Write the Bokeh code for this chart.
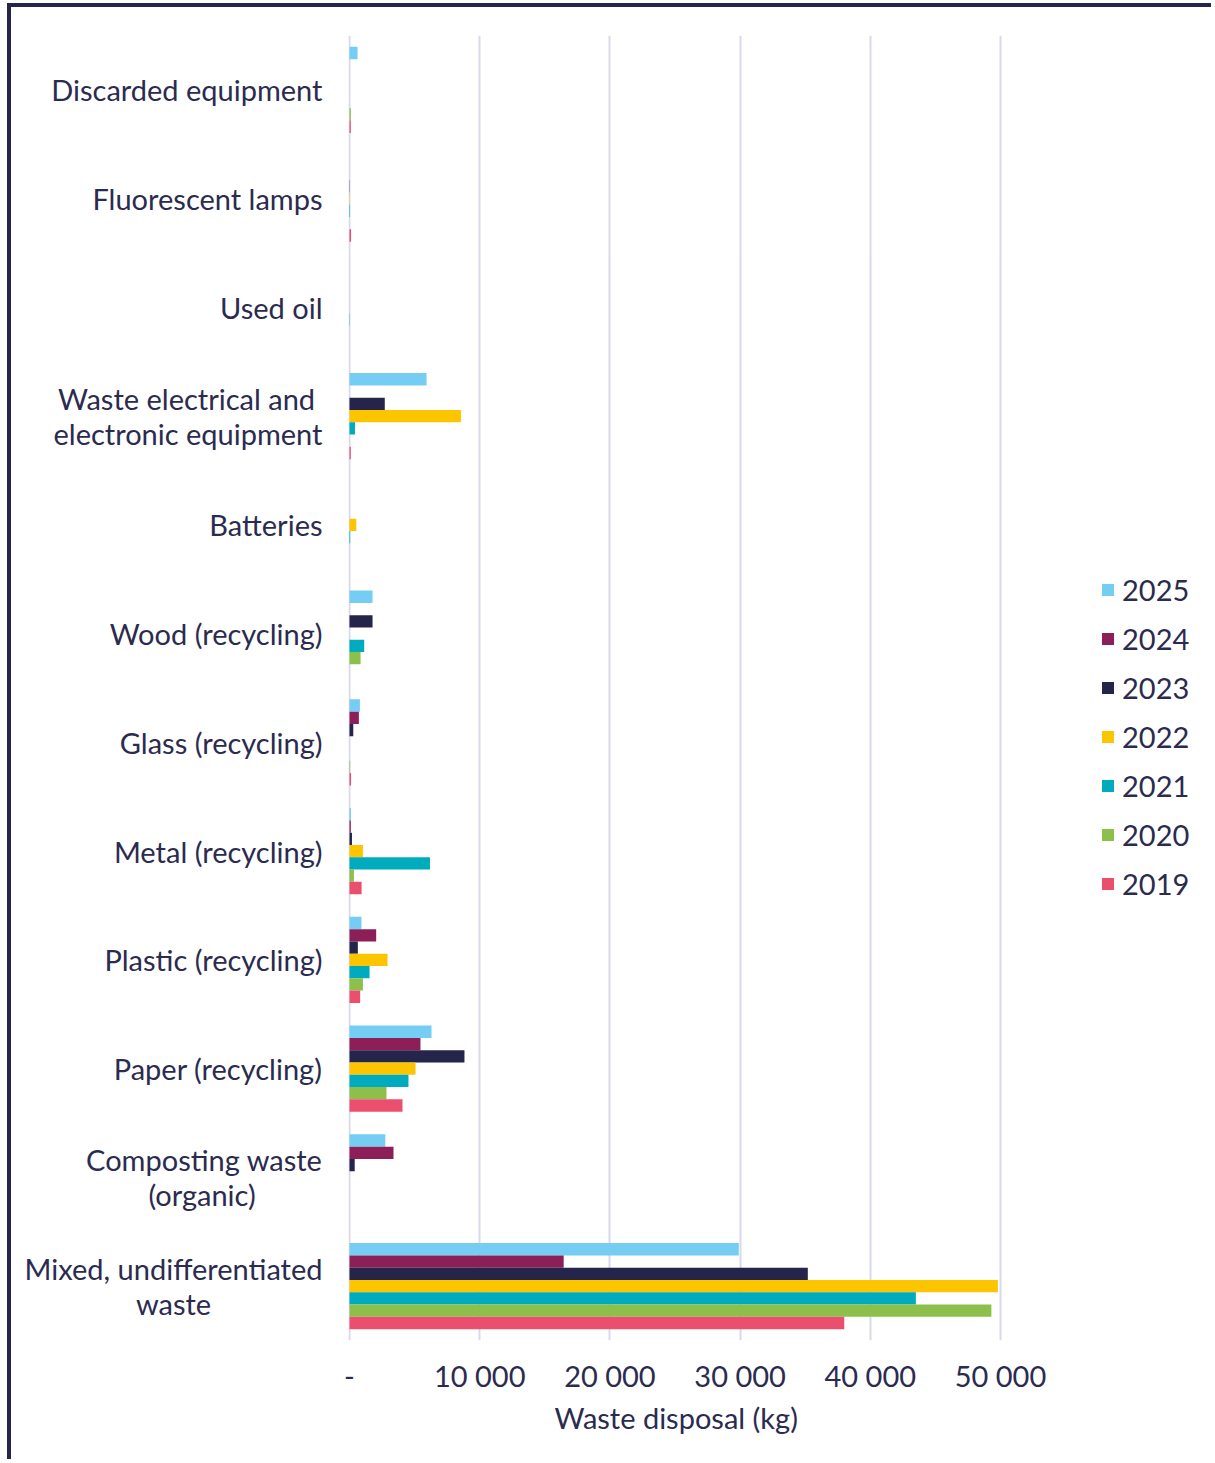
from bokeh.plotting import figure
from bokeh.models import FactorRange, FixedTicker, Legend, LegendItem, Title
from bokeh.transform import dodge
from bokeh.embed import file_html
from bokeh.resources import INLINE

NB = "\u00a0"
categories = ["Discarded equipment", "Fluorescent lamps", "Used oil",
              "Waste electrical and" + NB * 1 + "\nelectronic equipment", "Batteries",
              "Wood (recycling)", "Glass (recycling)", "Metal (recycling)",
              "Plastic (recycling)", "Paper (recycling)",
              "Composting waste\n(organic)" + NB * 9,
              "Mixed, undifferentiated\nwaste" + NB * 15]

years = ["2025", "2024", "2023", "2022", "2021", "2020", "2019"]

y2025 = [620, 0, 0, 5920, 0, 1770, 800, 110, 920, 6300, 2750, 29900]
y2024 = [0, 0, 0, 0, 0, 0, 720, 100, 2050, 5450, 3380, 16450]
y2023 = [0, 20, 0, 2710, 0, 1770, 290, 190, 640, 8830, 400, 35200]
y2022 = [0, 30, 0, 8560, 520, 0, 0, 1030, 2920, 5070, 0, 49800]
y2021 = [0, 40, 20, 420, 50, 1130, 0, 6180, 1540, 4530, 0, 43500]
y2020 = [100, 0, 0, 0, 0, 850, 50, 340, 1030, 2840, 0, 49300]
y2019 = [100, 120, 0, 100, 0, 0, 120, 930, 820, 4070, 0, 38000]

series = [y2025, y2024, y2023, y2022, y2021, y2020, y2019]
colors = ["#76CDF3", "#8C1F57", "#25244B", "#FDC400", "#00ABBE", "#8DC04A", "#EB4F6E"]

x_ticks = [0, 10000, 20000, 30000, 40000, 50000]
x_tick_labels = ["-", "10 000", "20 000", "30 000", "40 000", "50 000"]
x_title = "Waste disposal (kg)"

TEXT = "#2B2B50"
FONT = "Lato"
FS = "29px"

# frame spans to the right edge so the legend (drawn inside the frame) is not clipped;
# 50 000 kg sits 651 px right of the zero line as in the reference
KG_PER_PX = 50000 / 651.0
X_START = -1.0 * KG_PER_PX
X_END = X_START + (1204 - 337) * KG_PER_PX

p = figure(width=1204, height=1456, output_backend="svg", toolbar_location=None,
           y_range=FactorRange(factors=list(reversed(categories)), range_padding=0),
           x_range=(X_START, X_END),
           min_border_left=337, min_border_right=0, min_border_top=28, min_border_bottom=123)

p.styles = {"margin-left": "7px", "margin-top": "3px",
            "border-left": "4px solid #25244B", "border-top": "4px solid #25244B"}

p.outline_line_color = None
p.ygrid.grid_line_color = None
p.xgrid.grid_line_color = "#D9D8EC"
p.xgrid.grid_line_width = 2

bar_h = 0.1131
renderers = []
for i, (yr, vals, col) in enumerate(zip(years, series, colors)):
    off = (3 - i) * bar_h
    src = {"cat": categories, "val": vals}
    r = p.hbar(y=dodge("cat", off, range=p.y_range), right="val", left=0, height=bar_h,
               source=src, color=col, line_color=None)
    renderers.append(r)

legend = Legend(items=[LegendItem(label=yr, renderers=[r]) for yr, r in zip(years, renderers)],
                location=(752, 439), padding=0, margin=0, spacing=14,
                label_height=34, glyph_height=15, glyph_width=15, label_standoff=7,
                border_line_color=None, background_fill_alpha=0,
                label_text_font=FONT, label_text_font_size=FS, label_text_color=TEXT)
p.add_layout(legend, "center")

xa = p.xaxis[0]
xa.ticker = FixedTicker(ticks=x_ticks)
xa.major_label_overrides = {t: l for t, l in zip(x_ticks, x_tick_labels)}
xa.axis_line_color = None
xa.major_tick_line_color = None
xa.minor_tick_line_color = None
xa.major_label_standoff = 11
xa.major_label_text_font = FONT
xa.major_label_text_font_size = FS
xa.major_label_text_color = TEXT

p.add_layout(Title(text=x_title, align="left", offset=206, standoff=4,
                   text_font=FONT, text_font_size=FS, text_font_style="normal",
                   text_color=TEXT), "below")

ya = p.yaxis[0]
ya.axis_line_color = None
ya.major_tick_line_color = None
ya.minor_tick_line_color = None
ya.major_label_standoff = 20
ya.major_label_text_font = FONT
ya.major_label_text_font_size = FS
ya.major_label_text_color = TEXT
ya.major_label_text_line_height = 1.0

open("out.html", "w").write(file_html(p, INLINE))
